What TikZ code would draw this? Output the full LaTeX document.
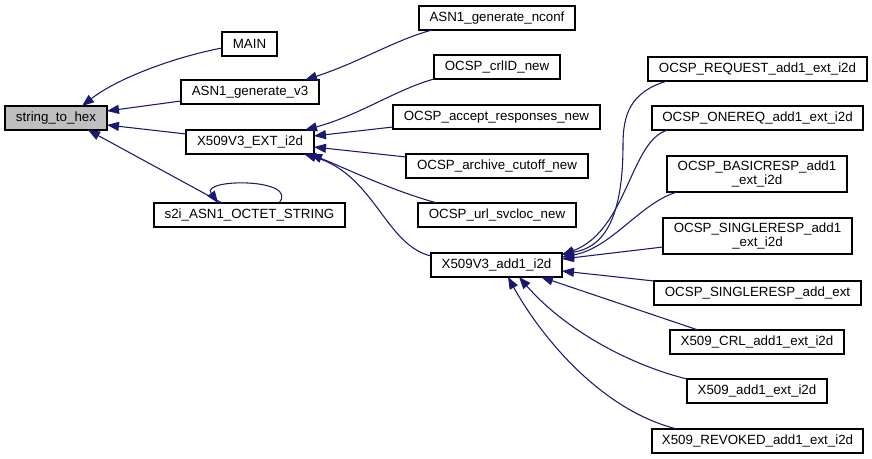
\documentclass[tikz,border=0pt]{standalone}
\usepackage{fontspec}
\setmainfont{Liberation Sans}
\usetikzlibrary{arrows.meta,calc}
\definecolor{edgeblue}{RGB}{25,25,112}
\definecolor{rootgray}{RGB}{191,191,191}
\begin{document}
\begin{tikzpicture}[x=0.75pt,y=-0.75pt,
  fnbox/.style 2 args={draw=black, line width=0.9pt, fill=white, inner sep=0pt,
    minimum width=#1*0.75pt, minimum height=#2*0.75pt, align=center,
    font=\fontsize{10}{10.5}\selectfont},
  rootbox/.style={fill=rootgray},
  edge/.style={draw=edgeblue, line width=0.8pt, -{Triangle[length=9pt,width=6.8pt]}}]
\useasboundingbox (0,0) rectangle (872,459);
% nodes
\node[fnbox={102}{24}, rootbox] (sth) at (56,118) {string\_to\_hex};
\node[fnbox={55}{24}] (main) at (249.5,44) {MAIN};
\node[fnbox={138}{24}] (v3) at (250,92) {ASN1\_generate\_v3};
\node[fnbox={128}{24}] (ext) at (250,142) {X509V3\_EXT\_i2d};
\node[fnbox={191}{24}] (s2i) at (249.5,215) {s2i\_ASN1\_OCTET\_STRING};
\node[fnbox={156}{24}] (nconf) at (497,18) {ASN1\_generate\_nconf};
\node[fnbox={126}{24}] (crl) at (497,67) {OCSP\_crlID\_new};
\node[fnbox={207}{24}] (acc) at (496.5,117) {OCSP\_accept\_responses\_new};
\node[fnbox={182}{24}] (arch) at (497,166) {OCSP\_archive\_cutoff\_new};
\node[fnbox={158}{24}] (url) at (497,215) {OCSP\_url\_svcloc\_new};
\node[fnbox={131}{24}] (add1) at (496.5,265) {X509V3\_add1\_i2d};
\node[fnbox={219}{24}] (req) at (757.5,69) {OCSP\_REQUEST\_add1\_ext\_i2d};
\node[fnbox={211}{24}] (onereq) at (757.5,118) {OCSP\_ONEREQ\_add1\_ext\_i2d};
\node[fnbox={180}{36}] (basic) at (757,174) {OCSP\_BASICRESP\_add1\\\_ext\_i2d};
\node[fnbox={189}{36}] (single) at (757.5,236) {OCSP\_SINGLERESP\_add1\\\_ext\_i2d};
\node[fnbox={207}{24}] (addext) at (757.5,293) {OCSP\_SINGLERESP\_add\_ext};
\node[fnbox={174}{24}] (crlx) at (757,342) {X509\_CRL\_add1\_ext\_i2d};
\node[fnbox={140}{24}] (x509) at (757,391) {X509\_add1\_ext\_i2d};
\node[fnbox={211}{24}] (rev) at (757.5,441) {X509\_REVOKED\_add1\_ext\_i2d};
% edges into string_to_hex
\draw[edge] ($(main)+(-27.5,4)$) .. controls (170,58) and (115,80) .. ($(sth)+(26,-12)$);
\draw[edge] ($(v3)+(-69,9)$) -- ($(sth)+(51,-7)$);
\draw[edge] ($(ext)+(-64,-8)$) -- ($(sth)+(51,7)$);
\draw[edge] ($(s2i)+(-27.5,-12)$) -- ($(sth)+(32,12)$);
\draw[edge] ($(s2i)+(29.5,-12)$) .. controls (300,178) and (200,178) .. ($(s2i)+(-31.5,-12)$);
% edges into ASN1_generate_v3 and X509V3_EXT_i2d
\draw[edge] ($(nconf)+(-65,12)$) .. controls (395,40) and (360,62) .. ($(v3)+(55,-12)$);
\draw[edge] ($(crl)+(-63,12)$) .. controls (395,90) and (360,115) .. ($(ext)+(55,-12)$);
\draw[edge] ($(acc)+(-103.5,10)$) -- ($(ext)+(64,-6)$);
\draw[edge] ($(arch)+(-91,-9)$) -- ($(ext)+(64,5)$);
\draw[edge] ($(url)+(-60,-12)$) .. controls (390,190) and (345,168) .. ($(ext)+(60,12)$);
\draw[edge] ($(add1)+(-65.5,-9)$) .. controls (385,245) and (375,175) .. ($(ext)+(54,12)$);
% edges into X509V3_add1_i2d
\draw[edge] ($(req)+(-90.5,12)$) .. controls (630,92) and (623,115) .. (623,145)
  .. controls (623,225) and (600,248) .. ($(add1)+(65.5,-11)$);
\draw[edge] ($(onereq)+(-89.5,12)$) .. controls (630,140) and (628,230) .. ($(add1)+(65.5,-10)$);
\draw[edge] ($(basic)+(-80,18)$) .. controls (640,203) and (612,248) .. ($(add1)+(65.5,-8)$);
\draw[edge] ($(single)+(-94.5,11)$) -- ($(add1)+(65.5,-6)$);
\draw[edge] ($(addext)+(-103.5,-12)$) -- ($(add1)+(65.5,6)$);
\draw[edge] ($(crlx)+(-59,-12)$) -- ($(add1)+(44.5,12)$);
\draw[edge] ($(x509)+(-70,-12)$) .. controls (630,365) and (565,330) .. ($(add1)+(22.5,12)$);
\draw[edge] ($(rev)+(-80.5,-12)$) .. controls (600,410) and (540,335) .. ($(add1)+(11.5,12)$);
\end{tikzpicture}
\end{document}
